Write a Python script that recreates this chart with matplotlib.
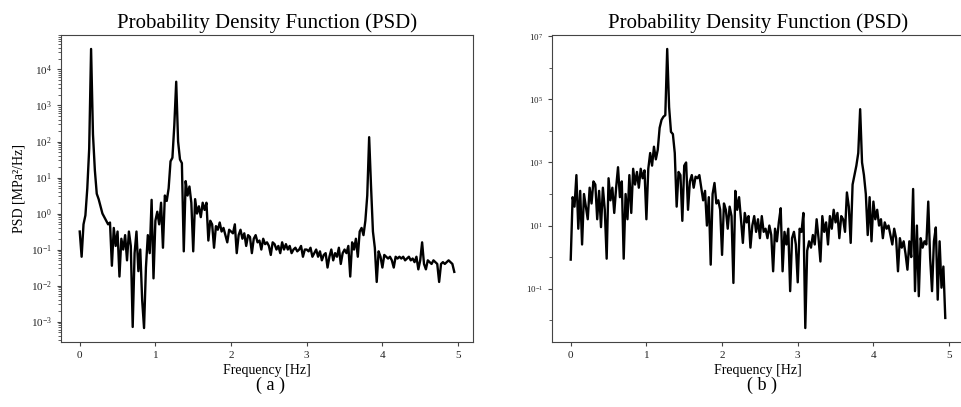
import numpy as np
import matplotlib
matplotlib.use("Agg")
import matplotlib.pyplot as plt
from matplotlib.ticker import LogLocator, NullFormatter, FixedLocator

plt.rcParams['font.family'] = ['Liberation Serif', 'DejaVu Serif']
plt.rcParams['mathtext.fontset'] = 'custom'
plt.rcParams['mathtext.rm'] = 'Liberation Serif'
plt.rcParams['mathtext.it'] = 'Liberation Serif:italic'

# frequency grid [Hz]
df = 0.025
freq = np.arange(199) * df

# log10 of PSD values
log_psd_a = [
    -0.5, -1.2, -0.3, -0.05, 0.7, 1.8, 4.57, 2.2, 1.2, 0.55,
    0.4, 0.2, 0.0, -0.1, -0.2, -0.3, -0.25, -1.45, -0.4, -0.9,
    -0.5, -1.75, -0.7, -1.0, -0.6, -1.3, -0.5, -0.9, -3.15, -1.1,
    -0.5, -1.6, -1.0, -2.4, -3.18, -1.5, -0.6, -1.1, 0.38, -1.8,
    -0.2, 0.05, -0.3, 0.3, -0.95, 0.5, 0.35, 0.7, 1.45, 1.55,
    2.45, 3.66, 2.0, 1.5, 1.4, -1.05, 0.9, 0.5, 0.75, 0.3,
    -1.05, 0.4, 0.0, 0.2, -0.1, 0.3, 0.1, 0.3, -0.75, -0.2,
    -0.3, -0.95, -0.35, -0.45, -0.25, -0.5, -0.4, -0.6, -0.8, -0.45,
    -0.5, -0.55, -0.3, -1.1, -0.6, -0.45, -0.7, -0.55, -0.9, -0.6,
    -0.65, -1.1, -0.7, -0.6, -0.8, -0.75, -1.0, -0.7, -0.85, -0.8,
    -0.9, -1.15, -0.8, -0.85, -1.0, -0.9, -1.1, -0.8, -1.0, -0.85,
    -1.0, -0.9, -1.1, -1.0, -0.95, -1.05, -1.0, -0.9, -1.2, -1.0,
    -1.0, -1.05, -0.95, -1.2, -1.1, -1.0, -1.2, -1.05, -1.3, -1.15,
    -1.1, -1.5, -1.2, -1.0, -1.3, -1.1, -1.2, -0.95, -1.4, -1.1,
    -1.0, -1.1, -0.9, -1.75, -0.8, -1.0, -0.7, -1.2, -0.5, -0.4,
    -0.6, -0.2, 0.5, 2.12, 0.75, -0.5, -0.95, -1.9, -1.05, -1.2,
    -1.5, -1.15, -1.2, -1.25, -1.2, -1.3, -1.5, -1.2, -1.25, -1.2,
    -1.25, -1.2, -1.3, -1.25, -1.2, -1.3, -1.25, -1.35, -1.2, -1.55,
    -1.3, -0.8, -1.4, -1.55, -1.3, -1.35, -1.4, -1.3, -1.35, -1.4,
    -1.9, -1.4, -1.35, -1.4, -1.35, -1.3, -1.35, -1.4, -1.62,
]

# log10 of PSD values
log_psd_b = [
    -0.08, 1.9, 1.6, 2.6, 0.9, 2.1, 0.4, 2.0, 1.6, 1.2,
    2.2, 1.7, 2.4, 2.3, 1.2, 2.1, 0.95, 2.2, 1.5, -0.05,
    2.5, 1.8, 2.2, 1.4, 2.2, 2.85, 1.9, 2.4, -0.05, 2.0,
    1.2, 2.6, 1.4, 2.8, 2.3, 2.7, 2.2, 2.8, 2.5, 2.75,
    1.2, 2.8, 3.3, 2.9, 3.5, 3.1, 3.4, 4.1, 4.35, 4.45,
    4.5, 6.6, 4.76, 3.97, 3.9, 3.3, 1.6, 2.7, 2.6, 1.15,
    2.9, 3.0, 1.5, 2.4, 2.6, 2.2, 2.55, 2.5, 2.6, 2.2,
    1.8, 2.1, 1.0, 1.9, -0.24, 2.0, 2.35, 1.7, 1.8, 1.5,
    0.07, 1.7, 1.5, 0.9, 1.6, 1.3, -0.82, 2.1, 1.5, 1.9,
    1.2, 0.45, 1.4, 1.1, 1.3, 0.3, 1.0, 1.3, 0.8, 1.2,
    0.6, 1.3, 0.8, 0.9, 0.6, 1.0, 0.7, -0.45, 0.9, 0.5,
    1.1, 1.55, -0.45, 0.8, 0.4, 0.9, -1.08, 0.6, 0.8, 0.4,
    -0.8, 0.9, 0.8, 1.4, -2.25, 0.2, 0.5, 0.3, 0.7, 0.4,
    1.2, 0.6, -0.14, 1.3, 0.8, 1.1, 0.4, 1.3, 0.9, 1.5,
    1.1, 1.4, 0.6, 1.3, 1.2, 0.8, 2.05, 1.6, 0.45, 2.3,
    2.6, 2.9, 3.3, 4.69, 3.0, 2.6, 2.0, 0.7, 1.9, 0.5,
    1.76, 1.2, 1.5, 1.0, 1.2, 0.6, 1.1, 0.9, 1.0, 0.7,
    0.4, 0.9, 0.6, -0.45, 0.6, 0.3, 0.5, 0.1, -0.4, 0.5,
    0.0, 2.16, -1.08, 1.0, -1.24, 0.6, 0.3, 0.5, 0.4, 1.76,
    -0.03, -1.08, 0.5, 0.94, -1.35, 0.5, -0.97, -0.3, -1.93,
]

psd_a = 10.0 ** np.array(log_psd_a)
psd_b = 10.0 ** np.array(log_psd_b)

title = "Probability Density Function (PSD)"
xlabel = "Frequency [Hz]"
ylabel_a = "PSD [MPa\u00b2/Hz]"
xticks = [0, 1, 2, 3, 4, 5]

W, H = 961, 407
fig = plt.figure(figsize=(W / 100, H / 100), dpi=100)

ax1 = fig.add_axes([61 / W, 1 - 342 / H, (473 - 61) / W, (342 - 35) / H])
ax2 = fig.add_axes([552 / W, 1 - 342 / H, (964 - 552) / W, (342 - 35) / H])

spine_col = '#444444'
for ax, f, p in ((ax1, freq, psd_a), (ax2, freq, psd_b)):
    ax.plot(f, p, color='black', lw=1.7)
    ax.set_yscale('log')
    ax.set_xticks(xticks)
    ax.set_title(title, fontsize=15, pad=5)
    ax.set_xlabel(xlabel, fontsize=10, labelpad=3)
    for s in ax.spines.values():
        s.set_color(spine_col)
    ax.tick_params(axis='both', colors=spine_col, labelcolor='#222222', labelsize=8, length=3)

ax1.set_ylabel(ylabel_a, fontsize=10)
ax1.yaxis.set_major_locator(LogLocator(base=10, numticks=20))
ax1.yaxis.set_minor_locator(LogLocator(base=10, subs=np.arange(2, 10), numticks=20))
ax1.yaxis.set_minor_formatter(NullFormatter())
ax1.tick_params(axis='y', which='minor', length=2, colors=spine_col)

ax2.yaxis.set_major_locator(FixedLocator([1e-1, 1e1, 1e3, 1e5, 1e7]))
ax2.yaxis.set_minor_locator(FixedLocator([1e-2, 1e0, 1e2, 1e4, 1e6]))
ax2.yaxis.set_minor_formatter(NullFormatter())
ax2.tick_params(axis='y', labelsize=6.5)
ax2.tick_params(axis='y', which='minor', length=2, colors=spine_col)

fig.text(270 / W, 1 - 385 / H, "( a )", ha='center', va='center', fontsize=13)
fig.text(762 / W, 1 - 385 / H, "( b )", ha='center', va='center', fontsize=13)

fig.savefig("out.png", dpi=100)
